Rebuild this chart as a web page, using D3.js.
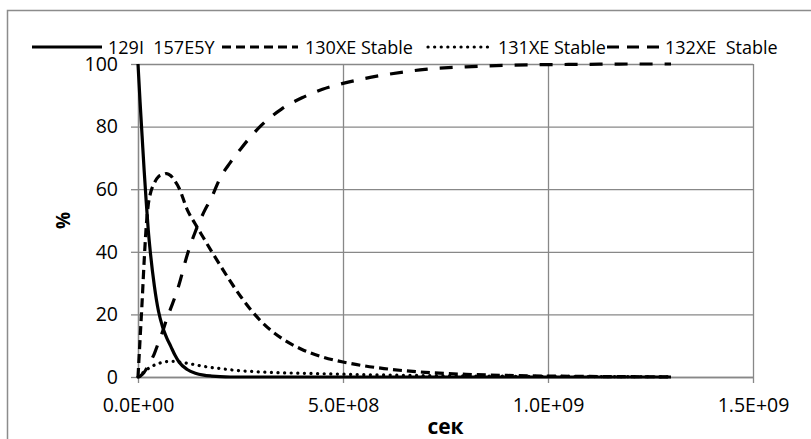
<!DOCTYPE html>
<html lang="ru">
<head>
<meta charset="utf-8">
<script src="https://d3js.org/d3.v7.min.js"></script>
<style>
  body { margin: 0; background: #fff; }
  svg { font-family: "Open Sans", sans-serif; }
  .tick text { font-size: 19.5px; fill: #000; }
</style>
</head>
<body>
<svg width="811" height="439"></svg>
<script>

// time, seconds
var times = [0, 5e6, 1e7, 1.5e7, 2e7, 2.5e7, 3e7, 4e7, 5e7, 6e7, 7e7, 8e7, 9e7, 1e8,
  1.2e8, 1.4e8, 1.6e8, 1.8e8, 2e8, 2.25e8, 2.5e8, 2.75e8, 3e8, 3.5e8, 4e8, 4.5e8,
  5e8, 5.5e8, 6e8, 6.5e8, 7e8, 8e8, 9e8, 1e9, 1.1e9, 1.2e9, 1.3e9];

// percentages
var i129 = [100, 88, 77, 66, 56, 47, 40, 29, 21, 16, 12.5, 9.8, 7, 4.8,
  2.4, 1.2, 0.6, 0.3, 0.1, 0, 0, 0, 0, 0, 0, 0,
  0, 0, 0, 0, 0, 0, 0, 0, 0, 0, 0];
var xe130 = [0, 12, 24, 37, 48, 55, 58.5, 62, 64, 64.6, 65, 64.3, 62.6, 60.4,
  53.5, 48.8, 44.4, 40, 35.8, 30.6, 25.8, 21.5, 17.8, 12.4, 8.8, 6.4,
  4.8, 3.6, 2.7, 2, 1.5, 0.85, 0.5, 0.3, 0.18, 0.1, 0.06];
var xe131 = [0, 0.5, 1.1, 1.7, 2.2, 2.7, 3.1, 3.8, 4.3, 4.7, 4.9, 5, 5, 4.8,
  4.4, 3.9, 3.4, 3, 2.7, 2.3, 2, 1.8, 1.6, 1.35, 1.2, 1.05,
  0.9, 0.75, 0.65, 0.55, 0.45, 0.35, 0.25, 0.2, 0.15, 0.1, 0.08];
var xe132 = [0, 0.2, 0.8, 1.5, 2.5, 3.5, 4.8, 7.5, 11, 14.5, 18.5, 22, 25.5, 29.5,
  39, 46.5, 52.5, 57.5, 63.5, 68.5, 72.8, 76.8, 80.3, 85.6, 89.2, 91.9,
  93.8, 95.3, 96.5, 97.5, 98.3, 99.1, 99.6, 99.8, 99.9, 100, 100];

var seriesNames = ["129I  157E5Y", "130XE Stable", "131XE Stable", "132XE  Stable"];
var xTicks = [0, 5e8, 1e9, 1.5e9];
var xTickLabels = ["0.0E+00", "5.0E+08", "1.0E+09", "1.5E+09"];
var yTicks = [0, 20, 40, 60, 80, 100];

var series = [i129, xe130, xe131, xe132];
var dashes = [null, "9,5", "0.1,6.5", "13,12"];
var legendDashes = [null, "9,5", "0.1,6.5", "12,8"];
var caps = ["butt", "butt", "round", "butt"];

var svg = d3.select("svg");
var pLeft = 138, pRight = 753, pTop = 64, pBottom = 377;

// outer chart border
svg.append("rect")
  .attr("x", 7.5).attr("y", 10.5)
  .attr("width", 900).attr("height", 500)
  .attr("fill", "none").attr("stroke", "#8c8c8c").attr("stroke-width", 1.5);

var x = d3.scaleLinear().domain([0, 1.5e9]).range([pLeft, pRight]);
var y = d3.scaleLinear().domain([0, 100]).range([pBottom, pTop]);

// gridlines
svg.append("g")
  .attr("transform", "translate(0," + pBottom + ")")
  .call(d3.axisBottom(x).tickValues(xTicks).tickSize(-(pBottom - pTop)).tickFormat(""))
  .call(g => g.select(".domain").remove())
  .call(g => g.selectAll("line").attr("stroke", "#888").attr("stroke-width", 1.3));
svg.append("g")
  .attr("transform", "translate(" + pLeft + ",0)")
  .call(d3.axisLeft(y).tickValues(yTicks).tickSize(-(pRight - pLeft)).tickFormat(""))
  .call(g => g.select(".domain").remove())
  .call(g => g.selectAll("line").attr("stroke", "#888").attr("stroke-width", 1.3));

// axes
svg.append("g")
  .attr("transform", "translate(0," + pBottom + ")")
  .call(d3.axisBottom(x).tickValues(xTicks).tickSizeInner(6).tickSizeOuter(0).tickPadding(15)
    .tickFormat((d, i) => xTickLabels[i]))
  .call(g => g.selectAll("line, .domain").attr("stroke", "#888").attr("stroke-width", 1.3))
  .call(g => g.selectAll("text").attr("font-family", "Open Sans"));
svg.append("g")
  .attr("transform", "translate(" + pLeft + ",0)")
  .call(d3.axisLeft(y).tickValues(yTicks).tickSizeInner(7).tickSizeOuter(0).tickPadding(13))
  .call(g => g.selectAll("line, .domain").attr("stroke", "#888").attr("stroke-width", 1.3))
  .call(g => g.selectAll("text").attr("font-family", "Open Sans"));

// lines
var line = d3.line()
  .x((d, i) => x(times[i]))
  .y(d => y(d))
  .curve(d3.curveMonotoneX);

series.forEach(function(s, k) {
  svg.append("path")
    .attr("d", line(s))
    .attr("fill", "none")
    .attr("stroke", "#000")
    .attr("stroke-width", 3.2)
    .attr("stroke-linecap", caps[k])
    .attr("stroke-dasharray", dashes[k]);
});

// axis titles
svg.append("text")
  .attr("x", (pLeft + pRight) / 2).attr("y", 434)
  .attr("text-anchor", "middle")
  .attr("font-size", 21).attr("font-weight", "bold")
  .text("сек");
svg.append("text")
  .attr("transform", "translate(70," + ((pTop + pBottom) / 2) + ") rotate(-90)")
  .attr("text-anchor", "middle")
  .attr("font-size", 19).attr("font-weight", "bold")
  .text("%");

// legend (entries are squeezed like in the original)
var ly = 47;
var legendTextX = [108, 305, 498, 665];
var legendLineX = [[32, 102], [222, 298], [428, 490], [607, 659]];
seriesNames.forEach(function(name, k) {
  svg.append("line")
    .attr("x1", legendLineX[k][0]).attr("x2", legendLineX[k][1])
    .attr("y1", ly).attr("y2", ly)
    .attr("stroke", "#000").attr("stroke-width", 3.2)
    .attr("stroke-linecap", caps[k])
    .attr("stroke-dasharray", legendDashes[k]);
  svg.append("text")
    .attr("x", legendTextX[k]).attr("y", ly + 6.5)
    .attr("font-size", 18)
    .style("white-space", "pre")
    .text(name);
});

</script>
</body>
</html>
